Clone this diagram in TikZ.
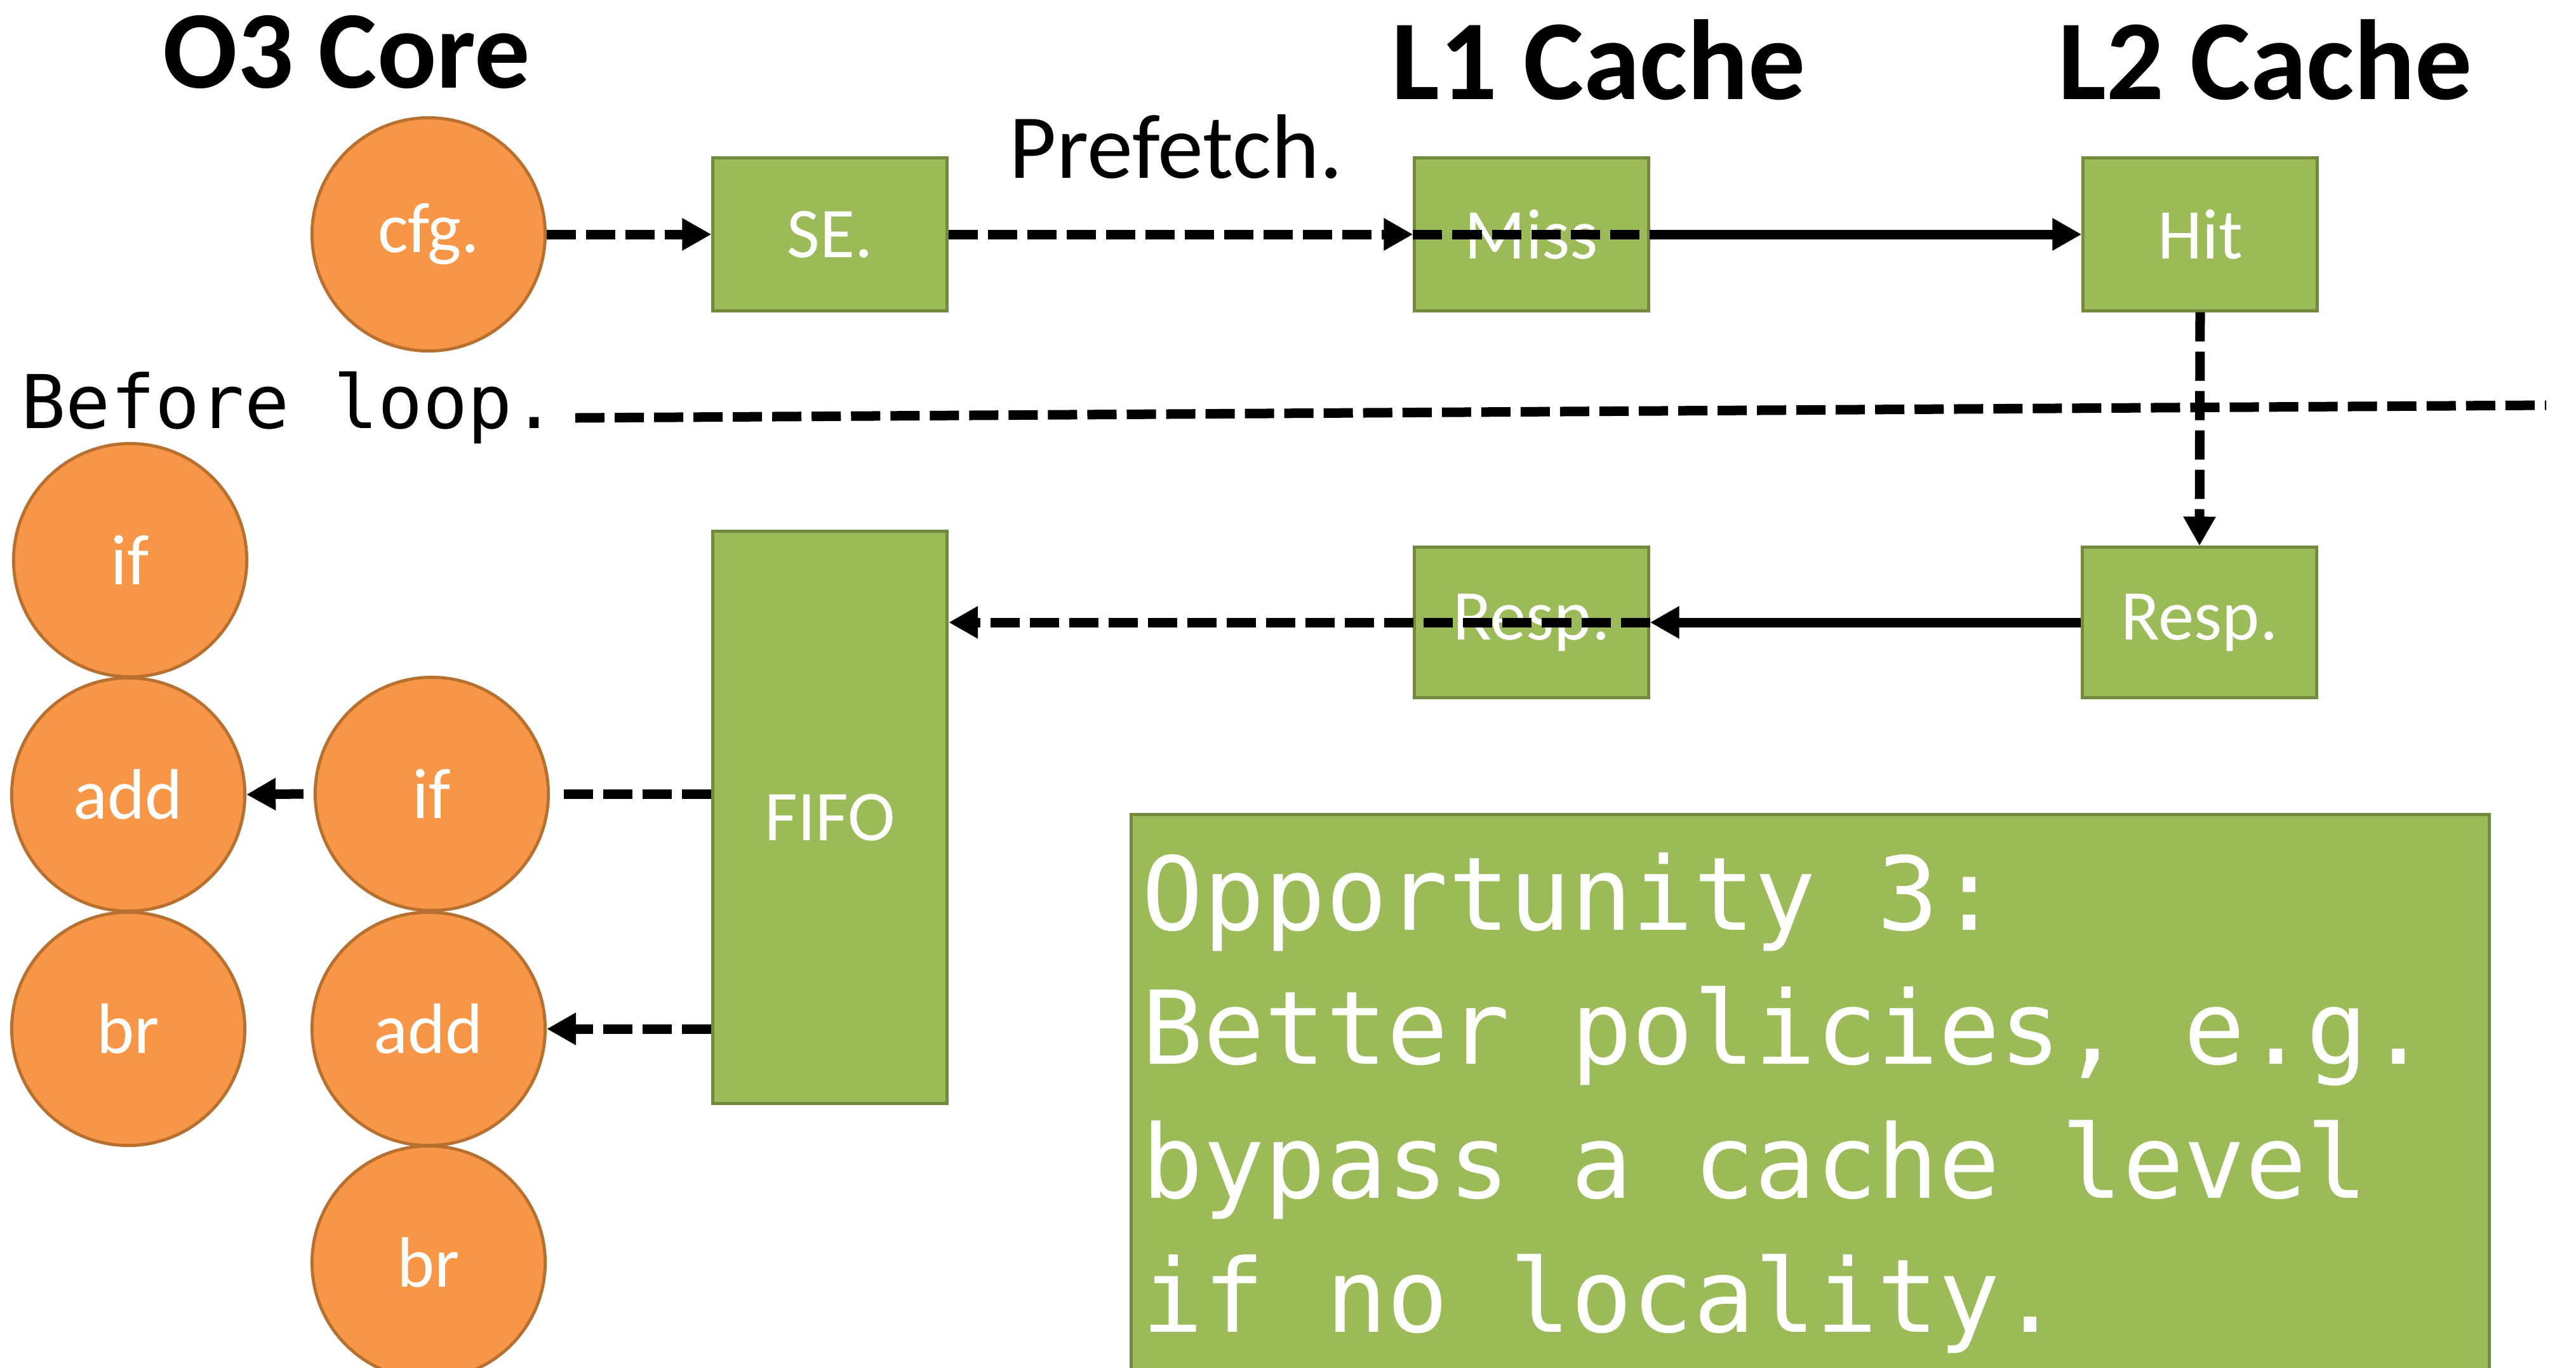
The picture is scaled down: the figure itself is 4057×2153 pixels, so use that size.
\documentclass[tikz,border=0pt]{standalone}
\usepackage{fontspec}
\setmainfont{Carlito}
\newfontfamily\monofont{DejaVu Sans Mono}
\usetikzlibrary{arrows.meta}
\definecolor{opfill}{HTML}{F79646}
\definecolor{opline}{HTML}{B87031}
\definecolor{gfill}{HTML}{9BBB59}
\definecolor{gline}{HTML}{728A40}
\begin{document}
\begin{tikzpicture}[x=0.01cm,y=-0.01cm,
  op/.style={circle, fill=opfill, draw=opline, line width=1.4pt, minimum size=3.67cm,
    inner sep=0pt, text=white, font=\fontsize{32}{38}\selectfont},
  gbox/.style={rectangle, fill=gfill, draw=gline, line width=1.4pt, inner sep=0pt,
    text=white, font=\fontsize{32}{38}\selectfont},
  cachebox/.style={gbox, minimum width=3.68cm, minimum height=2.40cm},
  title/.style={font=\fontsize{51}{58}\selectfont\bfseries, anchor=base, inner sep=0pt},
  wire/.style={line width=0.15cm},
  dl/.style={wire, dash pattern=on 0.46cm off 0.16cm},
  tip/.style={-{Triangle[length=0.46cm,width=0.48cm]}},
]
\useasboundingbox (0,0) rectangle (4057,2153);

% column titles
\node[title, font=\fontsize{49.5}{56}\selectfont\bfseries] (tcore) at (546,138) {O3 Core};
\node[title] (tl1) at (2518,156) {L1 Cache};
\node[title] (tl2) at (3568,156) {L2 Cache};
\node[anchor=base, inner sep=0pt, font=\fontsize{41}{48}\selectfont] (pf) at (1852,280) {Prefetch.};

% configuration path
\node[op] (cfg) at (675,369) {cfg.};
\node[cachebox] (se) at (1307,369) {SE.};
\node[cachebox] (miss) at (2412,369) {Miss};
\node[cachebox] (hit) at (3465,369) {Hit};

% loop separator
\node[anchor=base west, inner sep=0pt, font=\monofont\fontsize{33.2}{40}\selectfont] (bl) at (33,674) {Before loop.};
\coordinate (sepl) at (906,658);
\coordinate (sepr) at (4010,638);
\draw[dl] (sepl) -- (sepr);

% response path
\node[gbox, minimum width=3.68cm, minimum height=2.36cm] (r1) at (2412,980) {Resp.};
\node[gbox, minimum width=3.68cm, minimum height=2.36cm] (r2) at (3464,980) {Resp.};
\node[gbox, minimum width=3.69cm, minimum height=9.0cm] (fifo) at (1307,1287) {FIFO};

% instruction streams
\node[op] (lif) at (205,882) {if};
\node[op] (ladd) at (202,1251) {add};
\node[op] (lbr) at (202,1620) {br};
\node[op] (mif) at (680,1250) {if};
\node[op] (madd) at (675,1620) {add};
\node[op] (mbr) at (675,1988) {br};

% note
\node[gbox, anchor=north west, minimum width=21.38cm, minimum height=9.09cm,
  text width=21.04cm, inner xsep=0.17cm, align=flush left,
  font=\monofont\fontsize{45.6}{60}\selectfont] (opp) at (1779,1280)
  {Opportunity 3:\\Better policies, e.g.\\bypass a cache level\\if no locality.};

% connectors
\draw[dl, tip] (cfg) -- (se);
\draw[dl, tip] (se.east) -- (miss.west);
\draw[dl] (miss.west) -- (miss.east);
\draw[wire, tip] (miss.east) -- (hit.west);
\draw[dl, tip] (hit.south) -- (r2.north);
\draw[wire, tip] (r2.west) -- (r1.east);
\draw[dl, tip] (r1.east) -- (fifo.east |- r1.east);
\draw[dl] (fifo.west |- mif) -- ([xshift=0.16cm]mif.east);
\draw[wire, tip] ([xshift=-0.16cm]mif.west) -- (ladd.east);
\draw[dl, tip] (fifo.west |- madd) -- (madd.east);
\end{tikzpicture}
\end{document}
